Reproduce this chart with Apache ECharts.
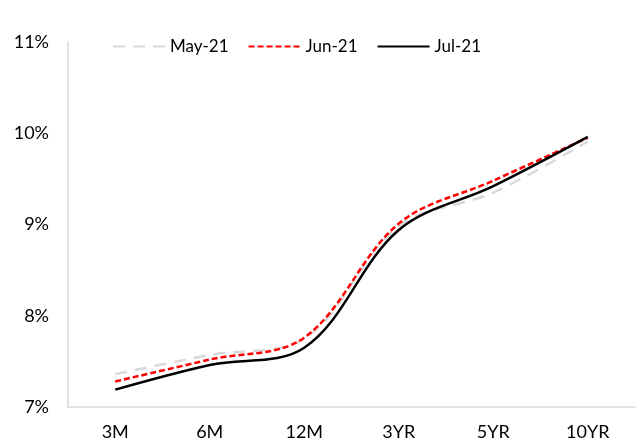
<!DOCTYPE html>
<html><head><meta charset="utf-8">
<script src="https://cdn.jsdelivr.net/npm/echarts@6/dist/echarts.min.js"></script>
<style>html,body{margin:0;padding:0;background:#fff}#c{width:644px;height:445px}</style>
</head><body><div id="c"></div>
<script>
const categories = ['3M','6M','12M','3YR','5YR','10YR'];
const may21 = [7.36, 7.57, 7.75, 8.98, 9.35, 9.91];
const jun21 = [7.28, 7.52, 7.76, 9.01, 9.48, 9.95];
const jul21 = [7.19, 7.46, 7.65, 8.94, 9.42, 9.96];
const yTicks = [7, 8, 9, 10, 11];

const font = 'Lato, "Open Sans", sans-serif';
const chart = echarts.init(document.getElementById('c'));
chart.setOption({
  animation: false,
  backgroundColor: '#fff',
  grid: {left: 68, right: 9, top: 42, bottom: 38},
  legend: {
    left: 107, top: 33, itemWidth: 52, itemHeight: 12, itemGap: 19,
    itemStyle: {opacity: 0},
    textStyle: {fontFamily: font, fontSize: 17, color: '#000'},
    data: ['May-21','Jun-21','Jul-21']
  },
  xAxis: {
    type: 'category', data: categories, boundaryGap: true,
    axisLine: {lineStyle: {color: '#d9d9d9', width: 1.5}},
    axisTick: {show: false},
    axisLabel: {fontFamily: font, fontSize: 18, color: '#000', margin: 16}
  },
  yAxis: {
    type: 'value', min: yTicks[0], max: yTicks[yTicks.length-1], interval: 1,
    axisLine: {show: true, lineStyle: {color: '#d9d9d9', width: 1.5}},
    axisTick: {show: false},
    splitLine: {show: false},
    axisLabel: {fontFamily: font, fontSize: 18, color: '#000', margin: 19, formatter: v => v + '%'}
  },
  series: [
    {name: 'May-21', type: 'line', data: may21, smooth: 0.35, symbol: 'none',
     lineStyle: {color: '#d9d9d9', width: 2.5, type: [12, 8]}, itemStyle: {color: '#d9d9d9'}},
    {name: 'Jun-21', type: 'line', data: jun21, smooth: 0.35, symbol: 'none',
     lineStyle: {color: '#ff0000', width: 2.5, type: [6, 3]}, itemStyle: {color: '#ff0000'}},
    {name: 'Jul-21', type: 'line', data: jul21, smooth: 0.35, symbol: 'none',
     lineStyle: {color: '#000', width: 2.5, type: 'solid'}, itemStyle: {color: '#000'}}
  ]
});
</script></body></html>
